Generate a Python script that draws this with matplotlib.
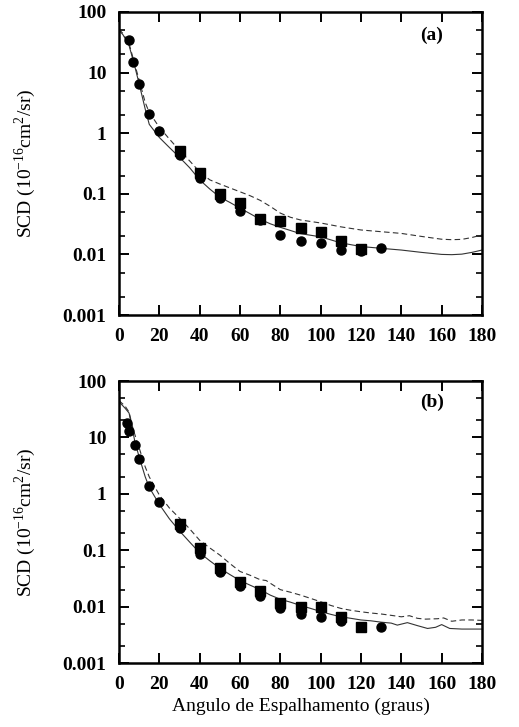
import matplotlib.pyplot as plt
from matplotlib.ticker import LogLocator, FixedLocator, NullFormatter

plt.rcParams['font.family'] = ['Liberation Serif', 'DejaVu Serif']
plt.rcParams['mathtext.fontset'] = 'custom'
plt.rcParams['mathtext.rm'] = 'Liberation Serif'

# ---- painel (a) ----
ang_sol_a = [0, 2, 5, 8, 10, 13, 15, 20, 25, 30, 35, 40, 45, 50, 55, 60, 65, 70, 75, 80,
             90, 100, 110, 120, 130, 140, 150, 160, 165, 170, 175, 180]
scd_sol_a = [50, 42, 28, 12, 6.5, 2.5, 1.4, 0.85, 0.58, 0.40, 0.27, 0.17, 0.12, 0.088, 0.072,
             0.058, 0.047, 0.038, 0.032, 0.028, 0.022, 0.0195, 0.0155, 0.0135, 0.0126, 0.0118,
             0.0108, 0.0100, 0.0099, 0.0101, 0.0108, 0.0118]
ang_das_a = [0, 2, 5, 8, 10, 13, 15, 20, 25, 30, 35, 40, 45, 50, 55, 60, 65, 70, 75, 80, 85,
             90, 100, 110, 120, 130, 140, 150, 160, 165, 170, 175, 180]
scd_das_a = [52, 44, 30, 13, 7.5, 3.2, 2.2, 1.25, 0.8, 0.52, 0.35, 0.23, 0.17, 0.145, 0.125,
             0.108, 0.093, 0.078, 0.062, 0.048, 0.041, 0.037, 0.033, 0.0285, 0.0253, 0.0237,
             0.0222, 0.0198, 0.0178, 0.0175, 0.0177, 0.019, 0.021]
ang_circ_a = [5, 7, 10, 15, 20, 30, 40, 50, 60, 70, 80, 90, 100, 110, 120, 130]
scd_circ_a = [34, 15, 6.5, 2.1, 1.1, 0.44, 0.18, 0.084, 0.053, 0.037, 0.021, 0.0168,
              0.0156, 0.0118, 0.0115, 0.0128]
ang_sq_a = [30, 40, 50, 60, 70, 80, 90, 100, 110, 120]
scd_sq_a = [0.50, 0.22, 0.099, 0.07, 0.039, 0.036, 0.0276, 0.0232, 0.0164, 0.0121]

# ---- painel (b) ----
ang_sol_b = [0, 3, 5, 7, 8, 10, 13, 15, 20, 25, 30, 35, 40, 45, 50, 55, 60, 65, 70, 75, 80,
             85, 90, 95, 100, 105, 110, 115, 120, 125, 130, 135, 138, 143, 148, 153, 157,
             160, 164, 170, 175, 180]
scd_sol_b = [43, 33, 27, 12, 8, 4.5, 2.0, 1.3, 0.65, 0.36, 0.22, 0.14, 0.09, 0.065, 0.048,
             0.037, 0.029, 0.024, 0.020, 0.016, 0.0135, 0.012, 0.0105, 0.0093, 0.0082,
             0.0073, 0.0066, 0.0062, 0.0058, 0.0056, 0.0053, 0.0051, 0.0047, 0.0052, 0.0046,
             0.0041, 0.0043, 0.0048, 0.0041, 0.0040, 0.0040, 0.0040]
ang_das_b = [0, 3, 5, 7, 10, 13, 15, 20, 25, 30, 35, 40, 45, 50, 55, 60, 65, 70, 73, 75, 80,
             85, 90, 95, 100, 105, 110, 115, 120, 125, 130, 135, 140, 144, 148, 152, 158,
             161, 165, 170, 175, 180]
scd_das_b = [45, 36, 28, 14, 6.5, 3.0, 2.0, 0.95, 0.56, 0.37, 0.24, 0.15, 0.11, 0.082, 0.058,
             0.042, 0.036, 0.030, 0.029, 0.026, 0.020, 0.018, 0.016, 0.014, 0.0122, 0.0105,
             0.0093, 0.0086, 0.0081, 0.0077, 0.0074, 0.0070, 0.0066, 0.0069, 0.0062, 0.0060,
             0.0061, 0.0063, 0.0055, 0.0058, 0.0058, 0.0057]
ang_circ_b = [4, 5, 8, 10, 15, 20, 30, 40, 50, 60, 70, 80, 90, 100, 110, 120, 130]
scd_circ_b = [18, 13, 7.2, 4.2, 1.4, 0.73, 0.244, 0.086, 0.0416, 0.0232, 0.0154, 0.0093,
              0.0074, 0.0065, 0.0056, 0.0044, 0.0043]
ang_sq_b = [30, 40, 50, 60, 70, 80, 90, 100, 110, 120]
scd_sq_b = [0.29, 0.108, 0.048, 0.0277, 0.0191, 0.0117, 0.0097, 0.0097, 0.0066, 0.0043]

xticks = [0, 20, 40, 60, 80, 100, 120, 140, 160, 180]
yticks = [0.001, 0.01, 0.1, 1, 10, 100]
ytick_labels = ['0.001', '0.01', '0.1', '1', '10', '100']

fig = plt.figure(figsize=(5.19, 7.27), dpi=100)
ax_a = fig.add_axes([0.2293, 0.5667, 0.6994, 0.4168])
ax_b = fig.add_axes([0.2293, 0.0880, 0.6994, 0.3879])


def draw_panel(ax, ang_s, scd_s, ang_d, scd_d, ang_c, scd_c, ang_q, scd_q, tag):
    ax.plot(ang_s, scd_s, color='#333333', lw=0.8, ls='-')
    ax.plot(ang_d, scd_d, color='#333333', lw=0.8, ls=(0, (5, 3)))
    ax.plot(ang_c, scd_c, 'o', color='black', ms=6.5, ls='none')
    ax.plot(ang_q, scd_q, 's', color='black', ms=6.5, ls='none')
    ax.set_yscale('log')
    ax.set_xlim(0, 180)
    ax.set_ylim(0.001, 100)
    ax.xaxis.set_major_locator(FixedLocator(xticks))
    ax.set_xticklabels([str(t) for t in xticks])
    ax.set_yticks(yticks)
    ax.set_yticklabels(ytick_labels)
    ax.yaxis.set_minor_locator(LogLocator(base=10, subs=[2, 5]))
    ax.yaxis.set_minor_formatter(NullFormatter())
    ax.tick_params(which='major', direction='in', length=7, width=1.4,
                   top=True, right=True, labelsize=14)
    ax.tick_params(axis='y', which='major', pad=9)
    ax.tick_params(axis='x', which='major', pad=9)
    ax.tick_params(which='minor', direction='in', length=4, width=1.2,
                   top=True, right=True)
    for lab in ax.get_xticklabels() + ax.get_yticklabels():
        lab.set_fontweight('bold')
    for sp in ax.spines.values():
        sp.set_linewidth(1.8)
    ax.text(0.862, 0.924, tag, transform=ax.transAxes, ha='center', va='center',
            fontsize=14, fontweight='bold')
    ax.set_ylabel(r'SCD (10$^{-16}$cm$^{2}$/sr)', fontsize=14, labelpad=18)


draw_panel(ax_a, ang_sol_a, scd_sol_a, ang_das_a, scd_das_a,
           ang_circ_a, scd_circ_a, ang_sq_a, scd_sq_a, '(a)')
draw_panel(ax_b, ang_sol_b, scd_sol_b, ang_das_b, scd_das_b,
           ang_circ_b, scd_circ_b, ang_sq_b, scd_sq_b, '(b)')
ax_b.set_xlabel('Angulo de Espalhamento (graus)', fontsize=14, labelpad=4)

fig.savefig('out.png', dpi=100)
